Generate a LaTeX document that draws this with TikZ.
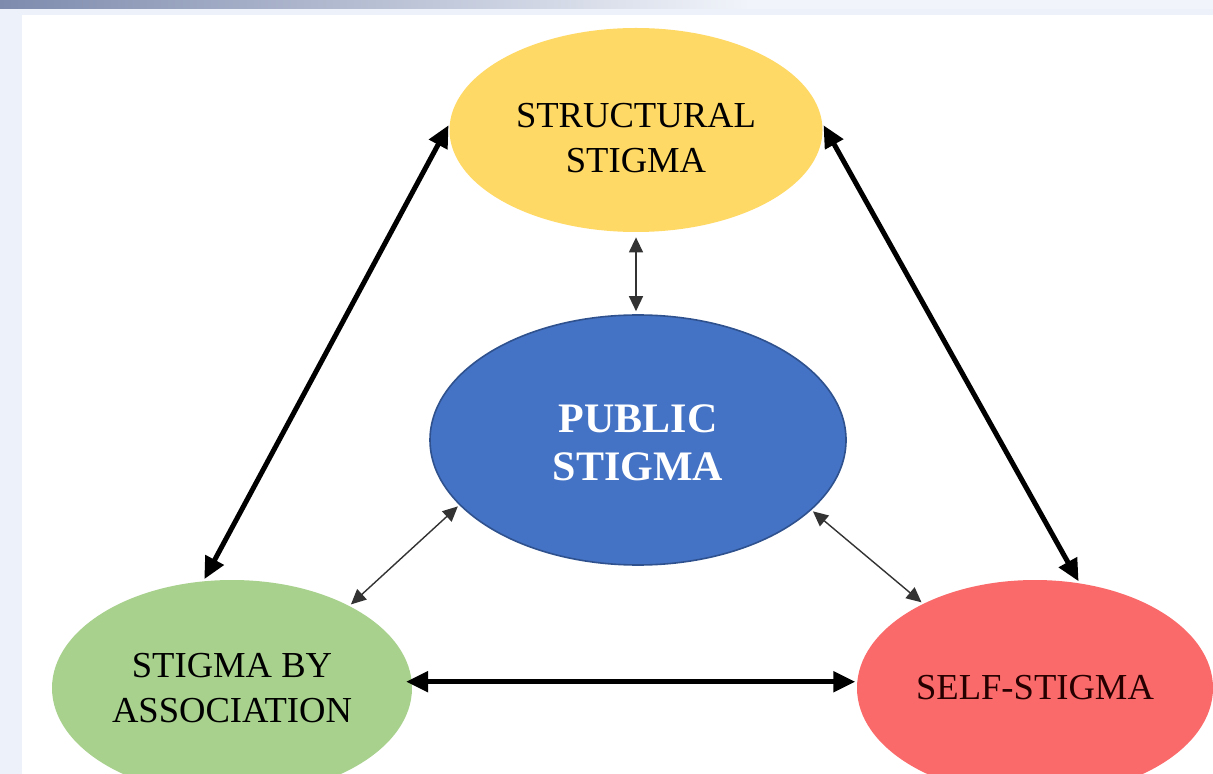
\documentclass[tikz,border=0pt]{standalone}
\usepackage{fontspec}
\setmainfont{Liberation Serif}
\usetikzlibrary{arrows.meta,shapes.geometric}
\definecolor{yel}{HTML}{FFD966}
\definecolor{blu}{HTML}{4472C4}
\definecolor{bluedge}{HTML}{2F528F}
\definecolor{grn}{HTML}{A9D18E}
\definecolor{rd}{HTML}{FA6A6A}
\definecolor{bandL}{HTML}{7E8BAD}
\definecolor{bandR}{HTML}{F1F4FA}
\definecolor{side}{HTML}{EDF2FA}
\tikzset{
  bubble/.style={ellipse, inner sep=0pt, align=center, font=\fontsize{18.3}{22.5}\selectfont},
  thickarr/.style={{Triangle[length=11pt,width=10pt]}-{Triangle[length=11pt,width=10pt]}, line width=2.5pt, black},
  thinarr/.style={{Triangle[length=7.5pt,width=7pt]}-{Triangle[length=7.5pt,width=7pt]}, line width=0.7pt, black!80},
}
\begin{document}
\begin{tikzpicture}[x=0.5pt,y=-0.5pt]
\useasboundingbox (0,0) rectangle (1213,774);
\clip (0,0) rectangle (1213,774);
\fill[white] (0,0) rectangle (1213,774);
\fill[side] (0,0) rectangle (1213,15);
\fill[side] (0,0) rectangle (22,774);
\shade[left color=bandL, right color=bandR] (0,0) rectangle (750,9);
\fill[bandR] (750,0) rectangle (1213,9);

\node[bubble, fill=yel, minimum width=186.5pt, minimum height=102pt] (ss) at (636,130) {\rule{0pt}{20.5pt}STRUCTURAL\\STIGMA};
\node[bubble, fill=blu, draw=bluedge, line width=0.8pt, minimum width=208pt, minimum height=125pt,
      text=white, font=\bfseries\fontsize{21}{24}\selectfont] (ps) at (638,440) {\rule{0pt}{17pt}PUBLIC\\STIGMA};
\node[bubble, fill=grn, minimum width=180pt, minimum height=108pt] (sa) at (232,688) {STIGMA BY\\ASSOCIATION};
\node[bubble, fill=rd, minimum width=178pt, minimum height=108pt, text=black!85!red] (self) at (1035,688) {SELF-STIGMA};

\draw[thickarr, shorten <=1pt, shorten >=1pt] (ss.178) -- (sa.105);
\draw[thickarr, shorten <=1pt, shorten >=1pt] (ss.2.5) -- (self.67);
\draw[thickarr, shorten <=-3pt, shorten >=1pt] (sa.2.5) -- (self.177.5 |- sa.2.5);
\draw[thinarr, shorten <=2.5pt, shorten >=1.5pt] (ss.south) -- (ps.north -| ss.south);
\draw[thinarr, shorten <=1pt, shorten >=1pt] (ps.200.3) -- (sa.35.8);
\draw[thinarr, shorten <=1pt, shorten >=1pt] (ps.338.7) -- (self.143.7);
\end{tikzpicture}
\end{document}
